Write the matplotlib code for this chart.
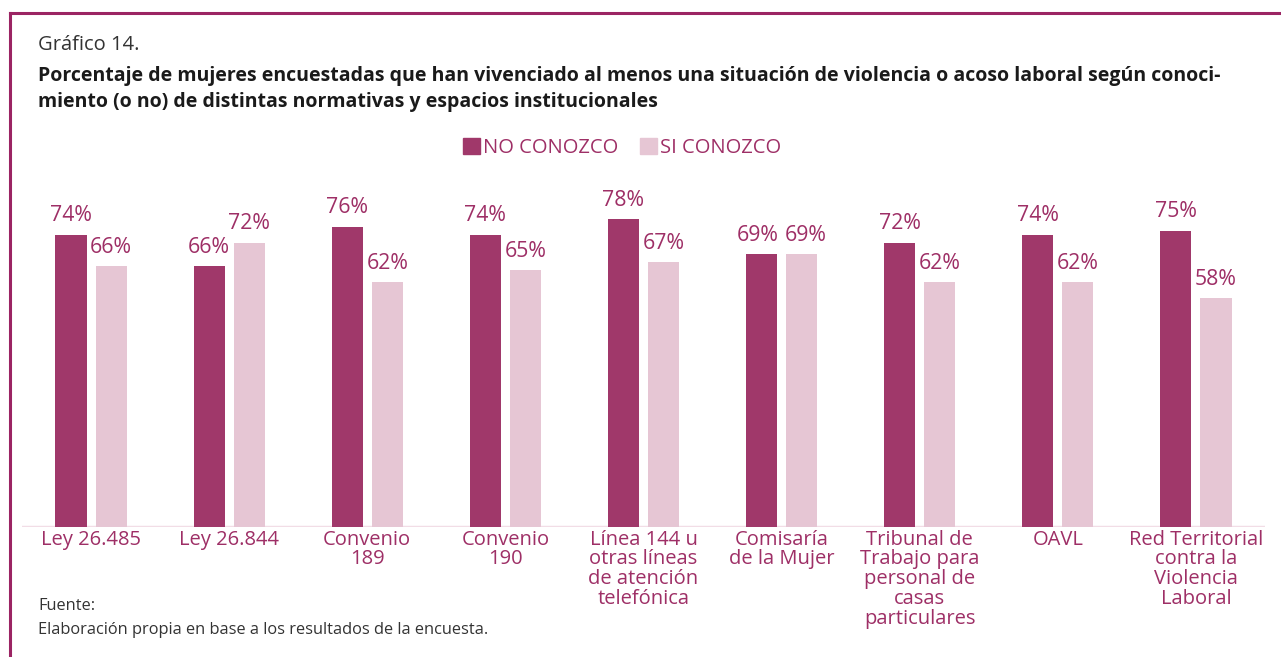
import matplotlib.pyplot as plt
import numpy as np
from matplotlib.lines import Line2D
from matplotlib.patches import Patch

# data
categorias = ["Ley 26.485", "Ley 26.844", "Convenio\n189", "Convenio\n190",
              "Línea 144 u\notras líneas\nde atención\ntelefónica",
              "Comisaría\nde la Mujer",
              "Tribunal de\nTrabajo para\npersonal de\ncasas\nparticulares",
              "OAVL", "Red Territorial\ncontra la\nViolencia\nLaboral"]
no_conozco = [74, 66, 76, 74, 78, 69, 72, 74, 75]
si_conozco = [66, 72, 62, 65, 67, 69, 62, 62, 58]
series = ["NO CONOZCO", "SI CONOZCO"]

oscuro = "#A0386A"
claro = "#E6C6D4"
texto = "#9E2F66"
borde = "#9B2463"

plt.rcParams['font.family'] = ['Open Sans', 'DejaVu Sans']

W, H = 1281, 657
fig = plt.figure(figsize=(W / 100, H / 100), dpi=100)
fig.patch.set_facecolor("white")

# axes placed in pixel terms
left, right, bottom, top = 22, 1265, 527, 190
ax = fig.add_axes([left / W, 1 - bottom / H, (right - left) / W, (bottom - top) / H])

x = np.arange(len(categorias))
ancho = 0.225
desp = 0.145
b1 = ax.bar(x - desp, no_conozco, ancho, color=oscuro)
b2 = ax.bar(x + desp, si_conozco, ancho, color=claro)

# value labels; when both bars are equal the labels are pushed apart a bit
for i in range(len(categorias)):
    for bars, vals, lado in [(b1, no_conozco, -1), (b2, si_conozco, 1)]:
        r = bars[i]
        v = vals[i]
        dx = 3 * lado if no_conozco[i] == si_conozco[i] else 0
        ax.annotate(f"{v}%", (r.get_x() + r.get_width() / 2, v),
                    xytext=(dx, 6), textcoords="offset points",
                    ha="center", va="bottom", fontsize=15.3, color=texto)

ax.set_xlim(-0.5, len(categorias) - 0.5)
ax.set_ylim(0, (bottom - top) / 3.95)
ax.axhline(0, color="#F2DDE6", lw=2.5, zorder=0)
ax.set_yticks([])
ax.set_xticks(x)
ax.set_xticklabels(categorias, fontsize=14.5, color=texto, linespacing=0.98, va="top")
ax.tick_params(axis="x", length=0, pad=2)
for s in ax.spines.values():
    s.set_visible(False)

# legend
handles = [Patch(color=oscuro), Patch(color=claro)]
fig.legend(handles, series, loc="center", bbox_to_anchor=(622 / W, 1 - 148 / H),
           ncol=2, frameon=False, fontsize=14.5, labelcolor=texto,
           handlelength=0.85, handleheight=0.85, handletextpad=0.15, columnspacing=1.1)

# titles
fig.text(38 / W, 1 - 45 / H, "Gráfico 14.", fontsize=14.5, color="#333333", va="center")
fig.text(38 / W, 1 - 89 / H,
         "Porcentaje de mujeres encuestadas que han vivenciado al menos una situación de violencia o acoso laboral según conoci-\n"
         "miento (o no) de distintas normativas y espacios institucionales",
         fontsize=14, fontweight="bold", color="#1a1a1a", va="center", linespacing=1.45)

# source
fig.text(38 / W, 1 - 606 / H, "Fuente:", fontsize=11.8, color="#333333", va="center")
fig.text(38 / W, 1 - 630 / H, "Elaboración propia en base a los resultados de la encuesta.",
         fontsize=11.8, color="#333333", va="center")

# frame lines
fig.add_artist(Line2D([10 / W, 1], [1 - 13 / H, 1 - 13 / H], color=borde, lw=2.2))
fig.add_artist(Line2D([10 / W, 10 / W], [1 - 13 / H, 0], color=borde, lw=2.2))

fig.savefig("out.png", dpi=100)
